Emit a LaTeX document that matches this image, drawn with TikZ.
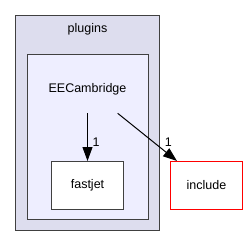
\documentclass[tikz,border=0pt]{standalone}
\usepackage{fontspec}
\setmainfont{Liberation Sans}
\usetikzlibrary{arrows.meta}
\definecolor{outerfill}{HTML}{DDDDEE}
\definecolor{innerfill}{HTML}{EEEEFF}
\definecolor{edgegray}{HTML}{404040}
\begin{document}
\begin{tikzpicture}[x=1pt,y=-1pt,
  lbl/.style={font=\fontsize{12.5}{14}\selectfont, inner sep=0pt},
  dirbox/.style={draw=edgegray, line width=1pt, fill=white, minimum width=72pt, minimum height=48pt, inner sep=0pt, font=\fontsize{12.5}{14}\selectfont},
  dep/.style={draw=black, line width=1pt, -{Triangle[length=14pt,width=10pt]}}]
\useasboundingbox (0,0) rectangle (248,247);
\node[draw=edgegray, line width=1pt, fill=outerfill, minimum width=144pt, minimum height=215pt, inner sep=0pt] (outer) at (87.5,123) {};
\node[lbl] (plugins) at (87.5,29.5) {plugins};
\node[draw=edgegray, line width=1pt, fill=innerfill, minimum width=121pt, minimum height=165pt, inner sep=0pt] (inner) at (88,137) {};
\node[lbl] (ee) at (87.5,89.5) {EECambridge};
\node[dirbox] (fastjet) at (87.5,185.5) {fastjet};
\node[dirbox, draw={rgb,255:red,255;green,0;blue,0}] (include) at (206.5,185.5) {include};
\coordinate (s1) at (87.5,113.3);
\coordinate (s2) at (117.7,113.3);
\coordinate (t2) at ([xshift=7pt]include.north west);
\draw[dep] (s1) -- (fastjet.north);
\draw[dep] (s2) -- (t2);
\node[lbl] (l1) at (96,141.7) {1};
\node[lbl] (l2) at (168.3,141.7) {1};
\end{tikzpicture}
\end{document}
